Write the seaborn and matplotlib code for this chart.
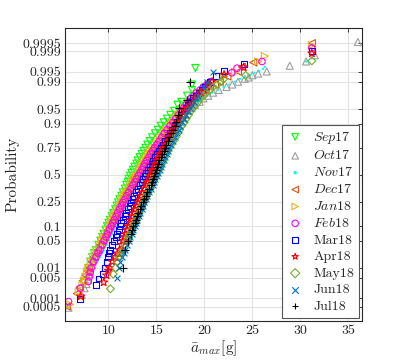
"""
Normal probability plot of the monthly maximum mean acceleration
"""
import numpy as np
import pandas as pd
import matplotlib
matplotlib.use("Agg")
import matplotlib.pyplot as plt
import seaborn as sns
from statistics import NormalDist

# ── Data ─────────────────────────────────────────────────────────────────────

# probability levels shared by all months for the body of each distribution
p_body = [0.01, 0.015, 0.02, 0.025, 0.03, 0.04, 0.05, 0.06, 0.07, 0.085,
          0.1, 0.115, 0.13, 0.15, 0.17, 0.195, 0.22, 0.245, 0.27, 0.3,
          0.33, 0.365, 0.4, 0.43, 0.46, 0.49, 0.52, 0.55, 0.58, 0.61,
          0.64, 0.67, 0.7, 0.725, 0.75, 0.775, 0.8, 0.825, 0.85, 0.87,
          0.89, 0.905, 0.92, 0.933, 0.945, 0.953, 0.96, 0.966, 0.972, 0.976,
          0.98, 0.983, 0.986, 0.988, 0.99]

nan = np.nan
sep17_x = [7.9, 8.1, 8.3, 8.5, 8.7, 8.95, 9.15, 9.35, 9.5, 9.7,
           9.85, 10.0, 10.15, 10.35, 10.5, 10.7, 10.85, 11.0, 11.15, 11.35,
           11.5, 11.7, 11.85, 12.0, 12.1, 12.25, 12.4, 12.55, 12.7, 12.9,
           13.05, 13.25, 13.45, 13.65, 13.85, 14.05, 14.3, 14.55, 14.85, 15.15,
           15.45, 15.75, 16.1, 16.45, 16.85, nan, 17.2, 17.6, nan, 18.2,
           nan, 18.7, nan, 18.7, nan]
oct17_x = [8.1, 8.35, 8.6, 8.8, 9.0, 9.25, 9.5, 9.7, 9.85, 10.05,
           10.25, 10.45, 10.6, 10.8, 10.95, 11.15, 11.3, 11.5, 11.65, 11.85,
           12.05, 12.3, 12.5, 12.7, 12.85, 13.05, 13.2, 13.4, 13.6, 13.8,
           14.0, 14.2, 14.45, 14.65, 14.9, 15.15, 15.45, 15.75, 16.1, 16.45,
           16.8, 17.15, 17.5, 17.9, 18.3, 18.65, 19.0, 19.5, 19.9, 20.4,
           20.9, 21.5, 22.3, 22.9, 23.5]
nov17_x = [8.6, 8.85, 9.1, 9.3, 9.5, 9.75, 10.0, 10.2, 10.4, 10.6,
           10.85, 11.05, 11.2, 11.4, 11.6, 11.8, 12.0, 12.2, 12.4, 12.6,
           12.8, 13.05, 13.25, 13.45, 13.6, 13.8, 13.95, 14.1, 14.3, 14.5,
           14.7, 14.9, 15.1, 15.3, 15.5, 15.75, 16.0, 16.3, 16.6, 16.9,
           17.2, 17.5, 17.8, 18.1, 18.4, 18.7, 19.0, 19.4, 19.8, 20.3,
           20.8, 21.4, 22.0, 22.6, 23.2]
dec17_x = [8.0, 8.25, 8.5, 8.7, 8.9, 9.15, 9.4, 9.6, 9.75, 9.95,
           10.15, 10.35, 10.5, 10.7, 10.85, 11.05, 11.2, 11.4, 11.55, 11.75,
           11.95, 12.2, 12.4, 12.6, 12.75, 12.95, 13.1, 13.3, 13.45, 13.65,
           13.85, 14.05, 14.25, 14.45, 14.7, 14.95, 15.2, 15.5, 15.8, 16.1,
           16.4, 16.7, 17.0, 17.3, 17.6, 17.9, 18.2, 18.55, 18.9, 19.25,
           19.6, 20.1, 20.6, 21.1, 21.6]
jan18_x = [7.9, 8.15, 8.4, 8.6, 8.8, 9.05, 9.3, 9.5, 9.65, 9.85,
           10.05, 10.25, 10.4, 10.6, 10.75, 10.95, 11.1, 11.3, 11.45, 11.65,
           11.85, 12.1, 12.3, 12.5, 12.65, 12.85, 13.0, 13.2, 13.35, 13.55,
           13.75, 13.95, 14.15, 14.35, 14.6, 14.85, 15.1, 15.4, 15.7, 16.0,
           16.3, 16.6, 16.9, 17.25, 17.6, 17.9, 18.2, 18.5, 18.8, 19.15,
           19.5, 19.9, 20.3, 20.65, 21.0]
feb18_x = [8.2, 8.45, 8.7, 8.9, 9.1, 9.35, 9.55, 9.75, 9.9, 10.1,
           10.3, 10.45, 10.6, 10.8, 10.95, 11.15, 11.35, 11.5, 11.7, 11.9,
           12.1, 12.35, 12.55, 12.75, 12.9, 13.1, 13.3, 13.5, 13.65, 13.8,
           14.0, 14.2, 14.4, 14.6, 14.8, 15.05, 15.3, 15.55, 15.8, 16.1,
           16.4, 16.7, 17.0, 17.3, 17.6, 17.85, 18.1, 18.35, 18.6, 18.9,
           19.2, 19.55, 19.9, 20.25, 20.6]
mar18_x = [9.6, 9.8, 9.95, 10.1, 10.2, 10.4, 10.6, 10.75, 10.9, 11.05,
           11.2, 11.35, 11.5, 11.7, 11.85, 12.05, 12.2, 12.35, 12.5, 12.7,
           12.85, 13.05, 13.25, 13.45, 13.6, 13.8, 13.95, 14.1, 14.3, 14.5,
           14.65, 14.85, 15.05, 15.25, 15.45, 15.65, 15.9, 16.15, 16.4, 16.65,
           16.9, 17.15, 17.4, 17.65, 17.9, 18.1, 18.3, 18.55, 18.8, 19.1,
           19.4, 19.75, 20.1, 20.35, 20.6]
apr18_x = [10.1, 10.4, 10.7, 10.95, 11.15, 11.35, 11.5, 11.65, 11.75, 11.9,
           12.05, 12.2, 12.3, 12.45, 12.6, 12.75, 12.9, 13.05, 13.2, 13.35,
           13.5, 13.7, 13.85, 14.0, 14.15, 14.3, 14.4, 14.55, 14.7, 14.85,
           15.0, 15.15, 15.35, 15.5, 15.7, 15.9, 16.1, 16.3, 16.55, 16.75,
           17.0, 17.25, 17.5, 17.75, 18.0, 18.25, 18.5, 18.75, 19.0, 19.3,
           19.6, 19.95, 20.3, 20.55, 20.8]
may18_x = [10.75, 10.95, 11.15, 11.3, 11.5, 11.75, 11.95, 12.1, 12.25, 12.45,
           12.6, 12.75, 12.9, 13.05, 13.2, 13.35, 13.5, 13.65, 13.8, 13.95,
           14.15, 14.35, 14.5, 14.65, 14.8, 14.95, 15.1, 15.25, 15.4, 15.55,
           15.7, 15.85, 16.0, 16.15, 16.35, 16.55, 16.75, 16.95, 17.2, 17.4,
           17.65, 17.9, 18.1, 18.35, 18.6, 18.85, 19.1, 19.35, 19.6, 19.9,
           20.2, 20.55, 20.9, 21.3, 21.7]
jun18_x = [11.1, 11.25, 11.4, 11.6, 11.75, 11.95, 12.1, 12.25, 12.4, 12.6,
           12.75, 12.9, 13.0, 13.15, 13.3, 13.45, 13.6, 13.75, 13.9, 14.05,
           14.25, 14.45, 14.6, 14.75, 14.9, 15.05, 15.2, 15.35, 15.45, 15.6,
           15.75, 15.9, 16.05, 16.2, 16.35, 16.5, 16.7, 16.9, 17.1, 17.3,
           17.5, 17.7, 17.9, 18.1, 18.3, 18.5, 18.7, 18.9, 19.1, 19.3,
           nan, nan, 19.9, nan, 20.3]
jul18_x = [11.56, nan, nan, nan, 11.74, nan, 12.05, nan, 12.3, 12.45,
           12.6, 12.75, 12.85, 13.0, 13.1, 13.25, 13.4, 13.6, 13.75, 13.9,
           14.05, 14.25, 14.4, 14.55, 14.65, 14.75, 14.85, 14.95, 15.05, 15.15,
           15.3, 15.45, 15.6, 15.75, 15.85, 16.0, 16.2, 16.35, 16.55, 16.75,
           16.95, 17.05, nan, 17.25, nan, 17.4, nan, nan, nan, nan,
           nan, nan, nan, nan, 18.5]

# tails (outside the shared levels): probability and value
sep17_tail_p = [0.0038, 0.9962]
sep17_tail_x = [7.4, 19.05]
oct17_tail_p = [0.00045, 0.00136, 0.0023, 0.0032, 0.0045, 0.0065, 0.0085,
                0.9918, 0.9925, 0.9936, 0.9943, 0.9951,
                0.9968, 0.9977, 0.9986, 0.99955]
oct17_tail_x = [5.83, 7.2, 7.5, 7.7, 7.85, 7.95, 8.02,
                24.2, 24.6, 25.0, 25.6, 26.5,
                28.9, 30.6, 31.5, 36.0]
nov17_tail_p = [0.0005, 0.002, 0.005,
                0.9918, 0.99286, 0.99379, 0.99461, 0.99534, 0.99598, 0.99653,
                0.99767]
nov17_tail_x = [5.83, 7.1, 8.0,
                23.7, 24.2, 24.7, 25.2, 25.7, 26.1, 26.3,
                30.6]
dec17_tail_p = [0.0005, 0.0015, 0.0025, 0.004, 0.006, 0.008,
                0.993, 0.995, 0.9965, 0.9975, 0.9995]
dec17_tail_x = [5.67, 6.7, 7.0, 7.3, 7.6, 7.8,
                22.4, 23.5, 23.9, 25.1, 31.2]
jan18_tail_p = [0.0006, 0.0018, 0.003, 0.0042, 0.0054, 0.0078,
                0.993, 0.995, 0.9977, 0.9985, 0.9994]
jan18_tail_x = [6.0, 6.9, 7.3, 7.5, 7.6, 7.75,
                22.0, 23.2, 25.6, 26.3, 31.2]
feb18_tail_p = [0.00077, 0.0023, 0.00385, 0.0054, 0.0075,
                0.9946, 0.99615, 0.99769, 0.99923]
feb18_tail_x = [5.83, 7.05, 7.9, 8.0, 8.1,
                22.85, 23.4, 26.0, 31.2]
mar18_tail_p = [0.00096, 0.0029, 0.0048, 0.0068,
                0.9932, 0.9952, 0.99712, 0.99904]
mar18_tail_x = [7.05, 8.7, 8.96, 9.4,
                21.2, 22.05, 24.1, 31.2]
apr18_tail_p = [0.0012, 0.0036, 0.006, 0.0083,
                0.9938, 0.9964, 0.9988]
apr18_tail_x = [7.1, 9.5, 9.8, 10.0,
                22.05, 24.1, 31.2]
may18_tail_p = [0.0022, 0.0065, 0.9916, 0.9935, 0.9978]
may18_tail_x = [10.2, 10.5, 22.0, 24.3, 31.2]
jun18_tail_p = [0.005, 0.995]
jun18_tail_x = [10.9, 20.9]
jul18_tail_p = [0.97]
jul18_tail_x = [18.2]

months = ["Sep17", "Oct17", "Nov17", "Dec17", "Jan18", "Feb18",
          "Mar18", "Apr18", "May18", "Jun18", "Jul18"]
legend_labels = [r"$Sep$17", r"$Oct$17", r"$Nov$17", r"$Dec$17", r"$Jan$18",
                 r"$Feb$18", "Mar18", "Apr18", "May18", "Jun18", "Jul18"]
body_values = [sep17_x, oct17_x, nov17_x, dec17_x, jan18_x, feb18_x,
               mar18_x, apr18_x, may18_x, jun18_x, jul18_x]
tail_probs = [sep17_tail_p, oct17_tail_p, nov17_tail_p, dec17_tail_p, jan18_tail_p,
              feb18_tail_p, mar18_tail_p, apr18_tail_p, may18_tail_p,
              jun18_tail_p, jul18_tail_p]
tail_values = [sep17_tail_x, oct17_tail_x, nov17_tail_x, dec17_tail_x, jan18_tail_x,
               feb18_tail_x, mar18_tail_x, apr18_tail_x, may18_tail_x,
               jun18_tail_x, jul18_tail_x]

prob_ticks = [0.0005, 0.001, 0.005, 0.01, 0.05, 0.1, 0.25, 0.5, 0.75, 0.9,
              0.95, 0.99, 0.995, 0.999, 0.9995]
prob_ticklabels = ["0.0005", "0.001", "0.005", "0.01", "0.05", "0.1", "0.25",
                   "0.5", "0.75", "0.9", "0.95", "0.99", "0.995", "0.999", "0.9995"]
x_ticks = [10, 15, 20, 25, 30, 35]

# ── Styles ───────────────────────────────────────────────────────────────────

colors = {
    "Sep17": (0.0, 1.0, 0.0), "Oct17": (0.62, 0.62, 0.62), "Nov17": (0.0, 1.0, 1.0),
    "Dec17": (0.85, 0.325, 0.098), "Jan18": (0.929, 0.694, 0.125),
    "Feb18": (1.0, 0.0, 1.0), "Mar18": (0.0, 0.0, 1.0), "Apr18": (1.0, 0.0, 0.0),
    "May18": (0.466, 0.674, 0.188), "Jun18": (0.0, 0.447, 0.741), "Jul18": (0.0, 0.0, 0.0),
}
markers = {
    "Sep17": "v", "Oct17": "^", "Nov17": "o", "Dec17": "<", "Jan18": ">",
    "Feb18": "o", "Mar18": "s", "Apr18": "*", "May18": "D", "Jun18": "x", "Jul18": "+",
}
sizes = {
    "Sep17": 26, "Oct17": 26, "Nov17": 3, "Dec17": 26, "Jan18": 26, "Feb18": 22,
    "Mar18": 18, "Apr18": 36, "May18": 16, "Jun18": 18, "Jul18": 30,
}
hollow = {"Sep17", "Oct17", "Dec17", "Jan18", "Feb18", "Mar18", "Apr18", "May18"}

# ── Long table ───────────────────────────────────────────────────────────────

rows = []
for m, bx, tp, tx in zip(months, body_values, tail_probs, tail_values):
    for p, x in zip(list(p_body) + tp, list(bx) + tx):
        if np.isfinite(x):
            rows.append({"month": m, "prob": p, "a_max": x})
df = pd.DataFrame(rows)

# ── Normal probability scale ─────────────────────────────────────────────────

nd = NormalDist()


def prob_to_z(p):
    p = np.clip(np.asarray(p, dtype=float), 1e-12, 1 - 1e-12)
    out = [nd.inv_cdf(v) if np.isfinite(v) else np.nan for v in p.ravel()]
    return np.array(out).reshape(p.shape)


def z_to_prob(z):
    z = np.asarray(z, dtype=float)
    out = [nd.cdf(v) if np.isfinite(v) else np.nan for v in z.ravel()]
    return np.array(out).reshape(z.shape)


# ── Figure ───────────────────────────────────────────────────────────────────

sns.set_theme(style="white")
plt.rcParams["font.family"] = ["cmr10", "DejaVu Serif"]
plt.rcParams["mathtext.fontset"] = "cm"
plt.rcParams["axes.unicode_minus"] = False

fig = plt.figure(figsize=(3.99, 3.6), dpi=100)
ax = fig.add_axes([0.1637, 0.1092, 0.7429, 0.8131])
ax.set_yscale("function", functions=(prob_to_z, z_to_prob))

for m, lab in zip(months, legend_labels):
    d = df[df["month"] == m]
    c = colors[m]
    kw = dict(marker=markers[m], s=sizes[m], color=c, linewidth=0.8,
              label=lab, ax=ax)
    if m in hollow:
        kw.update(facecolor="none", edgecolor=c)
    elif m == "Nov17":
        kw.update(edgecolor="none")
    sns.scatterplot(data=d, x="a_max", y="prob", **kw)

ax.set_xlim(5.5, 36.4)
ax.set_ylim(nd.cdf(-3.645), nd.cdf(3.67))
ax.set_xticks(x_ticks)
ax.set_xticklabels([str(t) for t in x_ticks])
ax.set_yticks(prob_ticks)
ax.set_yticklabels(prob_ticklabels)

ax.grid(True, color="#e3e3e3", linewidth=0.8)
ax.set_axisbelow(True)
ax.tick_params(direction="in", top=True, right=True, length=3, width=0.6,
               labelsize=10, colors="#262626", pad=3)
for sp in ax.spines.values():
    sp.set_color("#262626")
    sp.set_linewidth(0.8)

ax.set_xlabel(r"$\bar{a}_{max}$[g]", fontsize=11, labelpad=1, color="#262626")
ax.set_ylabel("Probability", fontsize=11, labelpad=2, color="#262626")

leg = ax.legend(loc="lower right", fontsize=10, frameon=True, fancybox=False,
                edgecolor="#555555", framealpha=1, borderaxespad=0.2,
                labelspacing=0.28, handlelength=1.2, handletextpad=0.7,
                borderpad=0.35, markerscale=1.0)
leg.get_frame().set_linewidth(0.8)
for h in leg.legend_handles:
    h.set_sizes([22])
leg.legend_handles[2].set_sizes([6])

fig.savefig("out.png", dpi=100)
